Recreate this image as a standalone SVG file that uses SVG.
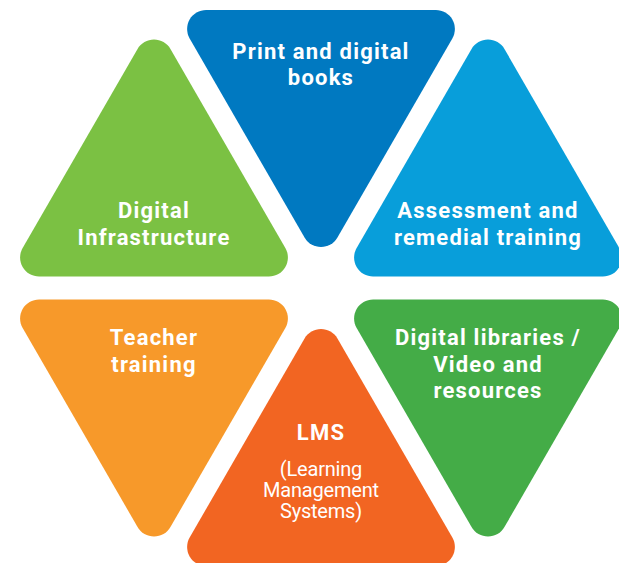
<svg xmlns="http://www.w3.org/2000/svg" xmlns:xlink="http://www.w3.org/1999/xlink" width="619" height="563" viewBox="0 0 619 563">
  <defs>
    <!-- Equilateral triangle with rounded corners: apex at origin, base at y=256 -->
    <path id="tri" d="M 16.45 28.49 L 131.35 227.51 A 19 19 0 0 1 114.9 256 L -114.9 256 A 19 19 0 0 1 -131.35 227.51 L -16.45 28.49 A 19 19 0 0 1 16.45 28.49 Z"/>
    <style>
      .lbl { font-family: Roboto, "Liberation Sans", sans-serif; font-size: 22px; font-weight: 700; letter-spacing: 1.2px; fill: #ffffff; text-anchor: middle; }
      .sub { font-family: Roboto, "Liberation Sans", sans-serif; font-size: 20px; font-weight: 400; letter-spacing: -0.2px; fill: #ffffff; text-anchor: middle; }
    </style>
  </defs>
  <rect width="619" height="563" fill="#ffffff"/>

  <g id="digital-infrastructure">
    <use xlink:href="#tri" href="#tri" transform="translate(154,20.5)" fill="#7BC143"/>
    <text class="lbl" x="154" y="218">Digital</text>
    <text class="lbl" x="154" y="245">Infrastructure</text>
  </g>

  <g id="print-digital-books">
    <use xlink:href="#tri" href="#tri" transform="translate(321,266) scale(1,-1)" fill="#0079C1"/>
    <text class="lbl" x="321" y="59">Print and digital</text>
    <text class="lbl" x="321" y="85">books</text>
  </g>

  <g id="assessment">
    <use xlink:href="#tri" href="#tri" transform="translate(488,20.5)" fill="#089EDA"/>
    <text class="lbl" x="488" y="218">Assessment and</text>
    <text class="lbl" x="488" y="245">remedial training</text>
  </g>

  <g id="teacher-training">
    <use xlink:href="#tri" href="#tri" transform="translate(154,555.5) scale(1,-1)" fill="#F7992A"/>
    <text class="lbl" x="154" y="345">Teacher</text>
    <text class="lbl" x="154" y="372">training</text>
  </g>

  <g id="lms">
    <use xlink:href="#tri" href="#tri" transform="translate(321,310)" fill="#F26522"/>
    <text class="lbl" x="321" y="440">LMS</text>
    <text class="sub" x="321" y="476">(Learning</text>
    <text class="sub" x="321" y="497">Management</text>
    <text class="sub" x="321" y="518">Systems)</text>
  </g>

  <g id="digital-libraries">
    <use xlink:href="#tri" href="#tri" transform="translate(488,555.5) scale(1,-1)" fill="#44AC47"/>
    <text class="lbl" x="488" y="345">Digital libraries /</text>
    <text class="lbl" x="488" y="372">Video and</text>
    <text class="lbl" x="488" y="398">resources</text>
  </g>
</svg>
